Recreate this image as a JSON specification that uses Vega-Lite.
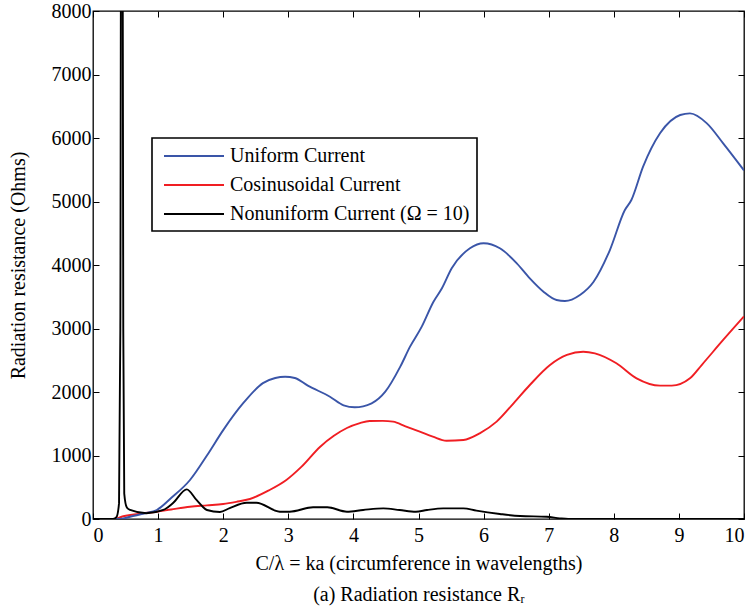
{
  "$schema": "https://vega.github.io/schema/vega-lite/v6.json",
  "width": 651,
  "height": 508,
  "autosize": "none",
  "padding": {"left": 93, "top": 11, "right": 10, "bottom": 92},
  "background": "white",
  "config": {
    "font": "'Liberation Serif'",
    "view": {"stroke": "black", "strokeWidth": 1.3},
    "axis": {
      "domain": false, "grid": false, "tickColor": "black", "tickSize": -6, "tickWidth": 1,
      "labelColor": "black", "labelFontSize": 20, "labelFont": "'Liberation Serif'",
      "titleFontSize": 20, "titleFontWeight": "normal", "titleColor": "black", "titleFont": "'Liberation Serif'"
    }
  },
  "datasets": {
    "curves": [
      {"s": "Cosinusoidal Current", "x": 0, "y": 0}, {"s": "Cosinusoidal Current", "x": 0.33, "y": 0}, {"s": "Cosinusoidal Current", "x": 0.45, "y": 40}, {"s": "Cosinusoidal Current", "x": 0.7, "y": 80}, {"s": "Cosinusoidal Current", "x": 0.98, "y": 115}, {"s": "Cosinusoidal Current", "x": 1.2, "y": 150}, {"s": "Cosinusoidal Current", "x": 1.49, "y": 194}, {"s": "Cosinusoidal Current", "x": 1.75, "y": 215}, {"s": "Cosinusoidal Current", "x": 2.0, "y": 236}, {"s": "Cosinusoidal Current", "x": 2.2, "y": 270}, {"s": "Cosinusoidal Current", "x": 2.41, "y": 315}, {"s": "Cosinusoidal Current", "x": 2.7, "y": 450}, {"s": "Cosinusoidal Current", "x": 2.97, "y": 614}, {"s": "Cosinusoidal Current", "x": 3.2, "y": 820}, {"s": "Cosinusoidal Current", "x": 3.49, "y": 1139}, {"s": "Cosinusoidal Current", "x": 3.7, "y": 1310}, {"s": "Cosinusoidal Current", "x": 3.9, "y": 1433}, {"s": "Cosinusoidal Current", "x": 4.1, "y": 1510}, {"s": "Cosinusoidal Current", "x": 4.25, "y": 1543}, {"s": "Cosinusoidal Current", "x": 4.45, "y": 1545}, {"s": "Cosinusoidal Current", "x": 4.61, "y": 1533}, {"s": "Cosinusoidal Current", "x": 4.8, "y": 1460}, {"s": "Cosinusoidal Current", "x": 5.02, "y": 1375}, {"s": "Cosinusoidal Current", "x": 5.22, "y": 1297}, {"s": "Cosinusoidal Current", "x": 5.43, "y": 1233}, {"s": "Cosinusoidal Current", "x": 5.69, "y": 1244}, {"s": "Cosinusoidal Current", "x": 5.94, "y": 1349}, {"s": "Cosinusoidal Current", "x": 6.2, "y": 1533}, {"s": "Cosinusoidal Current", "x": 6.46, "y": 1822}, {"s": "Cosinusoidal Current", "x": 6.71, "y": 2110}, {"s": "Cosinusoidal Current", "x": 7.02, "y": 2425}, {"s": "Cosinusoidal Current", "x": 7.28, "y": 2583}, {"s": "Cosinusoidal Current", "x": 7.53, "y": 2635}, {"s": "Cosinusoidal Current", "x": 7.71, "y": 2609}, {"s": "Cosinusoidal Current", "x": 8.04, "y": 2452}, {"s": "Cosinusoidal Current", "x": 8.35, "y": 2215}, {"s": "Cosinusoidal Current", "x": 8.71, "y": 2100}, {"s": "Cosinusoidal Current", "x": 8.89, "y": 2100}, {"s": "Cosinusoidal Current", "x": 9.17, "y": 2215}, {"s": "Cosinusoidal Current", "x": 9.35, "y": 2425}, {"s": "Cosinusoidal Current", "x": 9.68, "y": 2819}, {"s": "Cosinusoidal Current", "x": 10, "y": 3190},

      {"s": "Uniform Current", "x": 0, "y": 0}, {"s": "Uniform Current", "x": 0.3, "y": 0}, {"s": "Uniform Current", "x": 0.45, "y": 5}, {"s": "Uniform Current", "x": 0.57, "y": 36}, {"s": "Uniform Current", "x": 0.8, "y": 90}, {"s": "Uniform Current", "x": 0.98, "y": 142}, {"s": "Uniform Current", "x": 1.2, "y": 330}, {"s": "Uniform Current", "x": 1.49, "y": 614}, {"s": "Uniform Current", "x": 1.75, "y": 1000}, {"s": "Uniform Current", "x": 2.0, "y": 1400}, {"s": "Uniform Current", "x": 2.31, "y": 1827}, {"s": "Uniform Current", "x": 2.61, "y": 2140}, {"s": "Uniform Current", "x": 2.8, "y": 2220}, {"s": "Uniform Current", "x": 2.95, "y": 2240}, {"s": "Uniform Current", "x": 3.1, "y": 2220}, {"s": "Uniform Current", "x": 3.3, "y": 2100}, {"s": "Uniform Current", "x": 3.64, "y": 1926}, {"s": "Uniform Current", "x": 3.85, "y": 1790}, {"s": "Uniform Current", "x": 4.02, "y": 1759}, {"s": "Uniform Current", "x": 4.28, "y": 1822}, {"s": "Uniform Current", "x": 4.49, "y": 2005}, {"s": "Uniform Current", "x": 4.72, "y": 2399}, {"s": "Uniform Current", "x": 4.87, "y": 2714}, {"s": "Uniform Current", "x": 5.05, "y": 3029}, {"s": "Uniform Current", "x": 5.23, "y": 3422}, {"s": "Uniform Current", "x": 5.36, "y": 3633}, {"s": "Uniform Current", "x": 5.51, "y": 3948}, {"s": "Uniform Current", "x": 5.79, "y": 4263}, {"s": "Uniform Current", "x": 6.0, "y": 4342}, {"s": "Uniform Current", "x": 6.25, "y": 4263}, {"s": "Uniform Current", "x": 6.51, "y": 4027}, {"s": "Uniform Current", "x": 6.71, "y": 3790}, {"s": "Uniform Current", "x": 6.92, "y": 3580}, {"s": "Uniform Current", "x": 7.12, "y": 3449}, {"s": "Uniform Current", "x": 7.25, "y": 3433}, {"s": "Uniform Current", "x": 7.48, "y": 3528}, {"s": "Uniform Current", "x": 7.69, "y": 3737}, {"s": "Uniform Current", "x": 7.94, "y": 4236}, {"s": "Uniform Current", "x": 8.17, "y": 4866}, {"s": "Uniform Current", "x": 8.27, "y": 5024}, {"s": "Uniform Current", "x": 8.45, "y": 5549}, {"s": "Uniform Current", "x": 8.71, "y": 6074}, {"s": "Uniform Current", "x": 9.02, "y": 6362}, {"s": "Uniform Current", "x": 9.17, "y": 6388}, {"s": "Uniform Current", "x": 9.43, "y": 6231}, {"s": "Uniform Current", "x": 9.68, "y": 5916}, {"s": "Uniform Current", "x": 10, "y": 5490},

      {"s": "Nonuniform Current (Ω = 10)", "x": 0, "y": 0}, {"s": "Nonuniform Current (Ω = 10)", "x": 0.3, "y": 0}, {"s": "Nonuniform Current (Ω = 10)", "x": 0.36, "y": 30}, {"s": "Nonuniform Current (Ω = 10)", "x": 0.4, "y": 250}, {"s": "Nonuniform Current (Ω = 10)", "x": 0.42, "y": 3000}, {"s": "Nonuniform Current (Ω = 10)", "x": 0.435, "y": 12000}, {"s": "Nonuniform Current (Ω = 10)", "x": 0.45, "y": 12000}, {"s": "Nonuniform Current (Ω = 10)", "x": 0.465, "y": 3000}, {"s": "Nonuniform Current (Ω = 10)", "x": 0.48, "y": 400}, {"s": "Nonuniform Current (Ω = 10)", "x": 0.52, "y": 180}, {"s": "Nonuniform Current (Ω = 10)", "x": 0.57, "y": 142}, {"s": "Nonuniform Current (Ω = 10)", "x": 0.82, "y": 90}, {"s": "Nonuniform Current (Ω = 10)", "x": 1.08, "y": 142}, {"s": "Nonuniform Current (Ω = 10)", "x": 1.23, "y": 252}, {"s": "Nonuniform Current (Ω = 10)", "x": 1.44, "y": 467}, {"s": "Nonuniform Current (Ω = 10)", "x": 1.59, "y": 300}, {"s": "Nonuniform Current (Ω = 10)", "x": 1.75, "y": 142}, {"s": "Nonuniform Current (Ω = 10)", "x": 1.95, "y": 110}, {"s": "Nonuniform Current (Ω = 10)", "x": 2.1, "y": 173}, {"s": "Nonuniform Current (Ω = 10)", "x": 2.36, "y": 257}, {"s": "Nonuniform Current (Ω = 10)", "x": 2.51, "y": 257}, {"s": "Nonuniform Current (Ω = 10)", "x": 2.87, "y": 115}, {"s": "Nonuniform Current (Ω = 10)", "x": 3.02, "y": 115}, {"s": "Nonuniform Current (Ω = 10)", "x": 3.38, "y": 184}, {"s": "Nonuniform Current (Ω = 10)", "x": 3.6, "y": 184}, {"s": "Nonuniform Current (Ω = 10)", "x": 3.9, "y": 115}, {"s": "Nonuniform Current (Ω = 10)", "x": 4.15, "y": 142}, {"s": "Nonuniform Current (Ω = 10)", "x": 4.46, "y": 168}, {"s": "Nonuniform Current (Ω = 10)", "x": 4.71, "y": 142}, {"s": "Nonuniform Current (Ω = 10)", "x": 4.96, "y": 115}, {"s": "Nonuniform Current (Ω = 10)", "x": 5.13, "y": 142}, {"s": "Nonuniform Current (Ω = 10)", "x": 5.38, "y": 168}, {"s": "Nonuniform Current (Ω = 10)", "x": 5.69, "y": 168}, {"s": "Nonuniform Current (Ω = 10)", "x": 5.89, "y": 131}, {"s": "Nonuniform Current (Ω = 10)", "x": 6.25, "y": 79}, {"s": "Nonuniform Current (Ω = 10)", "x": 6.56, "y": 47}, {"s": "Nonuniform Current (Ω = 10)", "x": 6.97, "y": 36}, {"s": "Nonuniform Current (Ω = 10)", "x": 7.17, "y": 10}, {"s": "Nonuniform Current (Ω = 10)", "x": 7.3, "y": 0}, {"s": "Nonuniform Current (Ω = 10)", "x": 10, "y": 0}
    ]
  },
  "data": {"name": "curves"},
  "layer": [
    {
      "mark": {"type": "line", "strokeWidth": 1.9, "clip": true, "interpolate": "monotone"},
      "encoding": {
        "x": {
          "field": "x", "type": "quantitative",
          "scale": {"domain": [0, 10], "nice": false},
          "axis": {
            "orient": "bottom", "values": [0, 1, 2, 3, 4, 5, 6, 7, 8, 9, 10], "format": "d",
            "labelFont": "'Liberation Serif'",
            "titleFont": "'Liberation Serif'",
            "labelPadding": 12, "titlePadding": 8, "titleLineHeight": 31,
            "title": ["C/λ = ka (circumference in wavelengths)", "(a) Radiation resistance Rᵣ"]
          }
        },
        "y": {
          "field": "y", "type": "quantitative",
          "scale": {"domain": [0, 8000], "nice": false},
          "axis": {
            "orient": "left", "values": [0, 1000, 2000, 3000, 4000, 5000, 6000, 7000, 8000], "format": "d",
            "labelFont": "'Liberation Serif'",
            "titleFont": "'Liberation Serif'",
            "labelPadding": 8, "titlePadding": 23,
            "title": "Radiation resistance (Ohms)"
          }
        },
        "color": {
          "field": "s", "type": "nominal",
          "scale": {
            "domain": ["Uniform Current", "Cosinusoidal Current", "Nonuniform Current (Ω = 10)"],
            "range": ["#3a55a8", "#f01e23", "#000000"]
          },
          "legend": {
            "orient": "none", "legendX": 59, "legendY": 127, "title": null,
            "symbolType": "M-3,0H3", "symbolSize": 400, "symbolStrokeWidth": 2, "symbolOffset": 24,
            "labelFont": "'Liberation Serif'", "labelFontSize": 20, "labelColor": "black",
            "labelOffset": 25, "labelLimit": 400, "strokeColor": "black", "fillColor": "white",
            "padding": 7, "rowPadding": 8,
            "encode": {"legend": {"update": {"strokeWidth": {"value": 1.6}}}}
          }
        }
      }
    },
    {
      "mark": {"type": "line", "strokeOpacity": 0},
      "encoding": {
        "x": {
          "field": "x", "type": "quantitative",
          "axis": {"orient": "top", "values": [0, 1, 2, 3, 4, 5, 6, 7, 8, 9, 10], "labels": false, "title": null}
        },
        "y": {
          "field": "y", "type": "quantitative",
          "axis": {"orient": "right", "values": [0, 1000, 2000, 3000, 4000, 5000, 6000, 7000, 8000], "labels": false, "title": null}
        },
        "detail": {"field": "s"}
      }
    }
  ],
  "resolve": {"axis": {"x": "independent", "y": "independent"}}
}
